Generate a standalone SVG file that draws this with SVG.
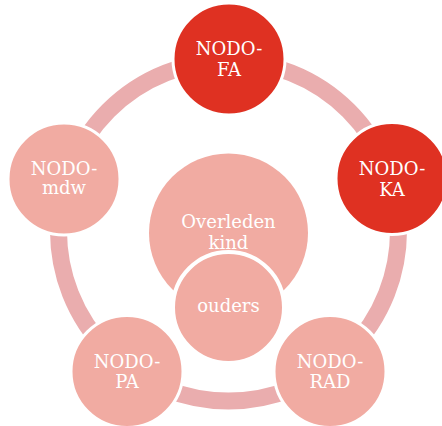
<svg xmlns="http://www.w3.org/2000/svg" width="442" height="426" viewBox="0 0 442 426">
  <style>
    .ring { fill: none; stroke: #EAADAE; stroke-width: 17; }
    .node circle { stroke: #FFFFFF; stroke-width: 3; }
    .red circle { fill: #DF3122; }
    .pink circle { fill: #F1ABA2; }
    text { font-family: "DejaVu Serif", "Liberation Serif", serif; font-size: 18px; fill: #FFFFFF; text-anchor: middle; }
  </style>
  <rect width="442" height="426" fill="#FFFFFF"/>
  <g id="connectors">
    <circle class="ring" cx="228.5" cy="231" r="170"/>
  </g>
  <g id="node-fa" class="node red">
    <circle cx="229" cy="59" r="56"/>
    <text x="229" y="55">NODO-</text>
    <text x="229" y="76">FA</text>
  </g>
  <g id="node-ka" class="node red">
    <circle cx="392" cy="178.5" r="56"/>
    <text x="392" y="175">NODO-</text>
    <text x="392" y="195.5">KA</text>
  </g>
  <g id="node-rad" class="node pink">
    <circle cx="330" cy="371.5" r="56"/>
    <text x="330" y="367.5">NODO-</text>
    <text x="330" y="388">RAD</text>
  </g>
  <g id="node-pa" class="node pink">
    <circle cx="127" cy="371.5" r="56"/>
    <text x="127" y="367.5">NODO-</text>
    <text x="127" y="388">PA</text>
  </g>
  <g id="node-mdw" class="node pink">
    <circle cx="64" cy="179" r="56"/>
    <text x="64" y="174.5">NODO-</text>
    <text x="64" y="194">mdw</text>
  </g>
  <g id="node-overleden-kind" class="node pink">
    <circle cx="228.5" cy="233" r="79.5" style="stroke:none"/>
    <text x="228.5" y="228">Overleden</text>
    <text x="228.5" y="248.5">kind</text>
  </g>
  <g id="node-ouders" class="node pink">
    <circle cx="228.5" cy="307.5" r="55.5" style="stroke-width:4"/>
    <text x="228.5" y="312">ouders</text>
  </g>
</svg>
